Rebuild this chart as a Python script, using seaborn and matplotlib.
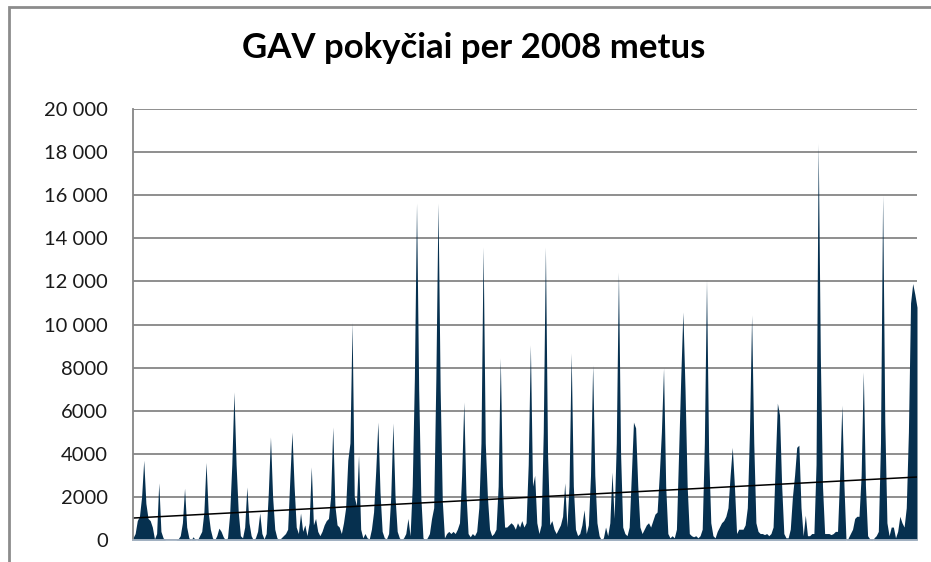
import numpy as np
import matplotlib
matplotlib.use("Agg")
import matplotlib.pyplot as plt
from matplotlib.patches import Rectangle
from matplotlib.ticker import FuncFormatter
import seaborn as sns

# daily values for 2008
jan = [100, 300, 900, 1100, 2000, 3700, 1700, 1000, 900, 600, 50, 300, 2650, 400, 100, 0,
       0, 0, 0, 0, 0, 50, 200, 800, 2400, 600, 100, 0, 150, 0, 0]
feb = [200, 400, 1300, 3600, 1300, 500, 100, 0, 200, 550, 400, 150, 0, 100, 1200, 3500,
       6870, 3500, 1300, 200, 100, 600, 2460, 800, 200, 0, 100, 400, 1250]
mar = [300, 50, 300, 2200, 4780, 2000, 500, 100, 0, 100, 200, 300, 500, 2800, 5010, 2500,
       600, 300, 1250, 400, 700, 200, 800, 3390, 700, 1000, 400, 200, 400, 700, 900]
apr = [1000, 2000, 5240, 1600, 700, 600, 300, 800, 1500, 3700, 4500, 10100, 2000, 1600, 3940,
       500, 100, 300, 100, 50, 500, 1300, 3200, 5470, 2200, 400, 100, 50, 300, 2000]
may = [5430, 2000, 400, 100, 0, 100, 300, 1000, 200, 2500, 7500, 15640, 7000, 2000, 100, 0,
       100, 300, 1000, 1500, 7500, 15640, 7000, 1800, 100, 300, 400, 300, 400, 300, 500]
jun = [800, 3000, 6400, 2200, 300, 150, 300, 200, 400, 1500, 4500, 13600, 4500, 2000, 500,
       200, 300, 500, 2500, 8450, 2500, 600, 600, 700, 800, 700, 500, 800, 600, 900]
jul = [600, 800, 3500, 9050, 2500, 3000, 800, 300, 700, 5000, 13600, 4000, 700, 900, 500, 300,
       500, 700, 1100, 2650, 600, 2500, 8680, 2500, 500, 200, 300, 700, 1400, 300, 700]
aug = [3000, 8120, 3000, 800, 200, 0, 100, 600, 200, 800, 3150, 1000, 4500, 12430, 4000, 600,
       300, 200, 600, 3000, 5470, 5200, 2500, 600, 300, 500, 700, 800, 600, 900, 1200]
sep = [1300, 3000, 5000, 7980, 2500, 300, 100, 200, 100, 500, 4000, 7500, 10580, 7000, 2500,
       300, 200, 150, 200, 100, 200, 500, 4500, 12060, 4000, 800, 200, 100, 400, 600]
oct_ = [800, 900, 1100, 1500, 3000, 4300, 2500, 300, 500, 500, 500, 700, 1500, 5000, 10440,
        4500, 800, 400, 300, 300, 250, 300, 200, 300, 600, 3500, 6350, 5800, 2500, 300, 100]
nov = [100, 500, 2000, 3000, 4300, 4400, 1500, 200, 1150, 200, 200, 300, 300, 3500, 18400,
       8500, 2500, 300, 300, 300, 250, 300, 400, 400, 3000, 6260, 2500, -150, 100, 300]
dec = [500, 1000, 1100, 1100, 3000, 7800, 2500, 200, 50, -150, 100, 200, 400, 4500, 16000, 5500,
       800, 200, 600, 600, 100, 400, 1100, 800, 600, 1500, 5000, 11000, 11900, 11400, 10800]

values = np.array(jan + feb + mar + apr + may + jun + jul + aug + sep + oct_ + nov + dec, dtype=float)
days = np.arange(len(values))

y_ticks = list(range(0, 20001, 2000))
title = "GAV pokyčiai per 2008 metus"

navy = "#06304f"
grid_gray = "#868686"

sns.set_style("white")
plt.rcParams["font.family"] = ["Lato", "DejaVu Sans"]

fig = plt.figure(figsize=(9.31, 5.62), dpi=100)
ax = fig.add_axes([133 / 931, 1 - 540 / 562, (917 - 133) / 931, (540 - 109) / 562])

ax.fill_between(days, values, 0, color=navy, lw=0)
# linear trend line, fitted by seaborn like the spreadsheet trendline
sns.regplot(x=days, y=values, ax=ax, scatter=False, ci=None, truncate=True,
            line_kws={"color": "black", "lw": 1.1})

ax.set_xlim(days[0], days[-1])
ax.set_ylim(0, 20000)
ax.set_yticks(y_ticks)
ax.yaxis.set_major_formatter(FuncFormatter(
    lambda v, p: f"{int(v):,}".replace(",", " ") if v >= 10000 else f"{int(v)}"))
ax.set_xticks([])
ax.set_xlabel("")
ax.set_ylabel("")
ax.yaxis.grid(True, color=grid_gray, lw=1.3)
ax.set_axisbelow(True)
ax.tick_params(axis="y", length=0, pad=18, labelsize=14.5, colors="#1a1a1a")

for side in ["top", "right"]:
    ax.spines[side].set_visible(False)
ax.spines["left"].set_color(grid_gray)
ax.spines["left"].set_linewidth(1.3)
ax.spines["bottom"].set_color("#a6b4c4")
ax.spines["bottom"].set_linewidth(1.3)

fig.text(474 / 931, 1 - 48 / 562, title, ha="center", va="center",
         fontsize=25, fontweight="bold", color="black")

# outer chart frame, cut off at right and bottom like the screenshot
fig.add_artist(Rectangle((9 / 931, -0.1), 1.2, 1.1 - 7 / 562, transform=fig.transFigure,
                         fill=False, edgecolor="#8c8c8c", lw=2))

fig.savefig("out.png", dpi=100)
